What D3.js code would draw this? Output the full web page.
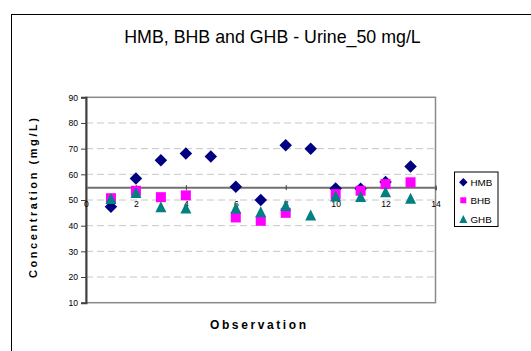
<!DOCTYPE html>
<html>
<head>
<meta charset="utf-8">
<script src="https://cdn.jsdelivr.net/npm/d3@7"></script>
<style>
  html, body { margin: 0; padding: 0; background: #fff; }
  svg { display: block; font-family: "Liberation Sans", Arial, sans-serif; }
</style>
</head>
<body>
<svg id="chart" width="531" height="351"></svg>
<script>
// Observation numbers and measured concentrations (mg/L); null = no result
const observations = [1, 2, 3, 4, 5, 6, 7, 8, 9, 10, 11, 12, 13];
const hmbValues = [47.4, 58.4, 65.5, 68.1, 66.9, 55.2, 50.0, 71.3, 70.0, 54.5, 54.4, 57.0, 63.0];
const bhbValues = [50.7, 53.6, 51.1, 51.8, null, 43.2, 41.9, 45.0, null, 52.3, 53.6, 56.2, 56.9];
const ghbValues = [50.6, 52.9, 47.4, 46.9, null, 46.9, 45.4, 47.9, 44.2, 51.6, 51.4, 53.2, 50.7];
const seriesNames = ["HMB", "BHB", "GHB"];
const seriesColors = ["#000080", "#FF00FF", "#008080"];
const xTicks = [0, 2, 4, 6, 8, 10, 12, 14];
const yTicks = [10, 20, 30, 40, 50, 60, 70, 80, 90];
const xCross = 55; // category axis crosses the value axis here

const svg = d3.select("#chart");

// Marker shapes
const diamond = { draw(ctx, size) { const r = Math.sqrt(size) / 2; ctx.moveTo(0, -r); ctx.lineTo(r, 0); ctx.lineTo(0, r); ctx.lineTo(-r, 0); ctx.closePath(); } };
const square = { draw(ctx, size) { const r = Math.sqrt(size) / 2; ctx.rect(-r, -r, 2 * r, 2 * r); } };
const triangle = { draw(ctx, size) { const r = Math.sqrt(size) / 2; ctx.moveTo(0, -r); ctx.lineTo(r, r); ctx.lineTo(-r, r); ctx.closePath(); } };
const shapes = [diamond, square, triangle];
const plotSizes = [12.5 * 12.5, 10 * 10, 11 * 11];
const legendSizes = [8.5 * 8.5, 6 * 6, 8 * 8];

// Outer chart frame
svg.append("rect").attr("x", 11.5).attr("y", 14.5).attr("width", 600).attr("height", 400)
  .attr("fill", "#fff").attr("stroke", "#000").attr("stroke-width", 1);

// Title
svg.append("text").attr("x", 272.5).attr("y", 43).attr("text-anchor", "middle")
  .attr("font-size", 17.8).attr("fill", "#000").text("HMB, BHB and GHB - Urine_50 mg/L");

const plot = { left: 86, right: 435.5, top: 97.3, bottom: 302.7 };
const x = d3.scaleLinear().domain([0, 14]).range([plot.left, plot.right]);
const y = d3.scaleLinear().domain([10, 90]).range([plot.bottom, plot.top]);

// Plot area
svg.append("rect").attr("x", plot.left).attr("y", plot.top)
  .attr("width", plot.right - plot.left).attr("height", plot.bottom - plot.top)
  .attr("fill", "#fff").attr("stroke", "#8a8a8a").attr("stroke-width", 1.5);

// Dashed gridlines
svg.append("g").selectAll("line").data(yTicks.filter(v => v > 10 && v < 90)).join("line")
  .attr("x1", plot.left).attr("x2", plot.right)
  .attr("y1", d => y(d)).attr("y2", d => y(d))
  .attr("stroke", "#c8c8c8").attr("stroke-width", 1).attr("stroke-dasharray", "7,4");

// Value axis
const yAxis = svg.append("g").attr("transform", `translate(${plot.left},0)`)
  .call(d3.axisLeft(y).tickValues(yTicks).tickSize(5).tickPadding(3).tickFormat(d3.format("d")));
yAxis.select(".domain").attr("stroke", "#404040").attr("stroke-width", 2);
yAxis.selectAll(".tick line").attr("stroke", "#404040");
yAxis.selectAll("text").attr("font-size", 8.6).attr("fill", "#000")
  .attr("font-family", "Liberation Sans, Arial, sans-serif");

// Category axis crossing at 55
const xAxis = svg.append("g").attr("transform", `translate(0,${y(xCross)})`)
  .call(d3.axisBottom(x).tickValues(xTicks).tickSize(3).tickPadding(11).tickFormat(d3.format("d")));
xAxis.select(".domain").attr("stroke", "#707070").attr("stroke-width", 2);
xAxis.selectAll(".tick line").attr("y1", -2).attr("stroke", "#404040");
xAxis.selectAll("text").attr("font-size", 8.6).attr("fill", "#000")
  .attr("font-family", "Liberation Sans, Arial, sans-serif");

// Axis titles
svg.append("text").attr("x", 258).attr("y", 329).attr("text-anchor", "middle")
  .attr("font-size", 12).attr("font-weight", "bold").attr("fill", "#000")
  .attr("textLength", 96).attr("lengthAdjust", "spacing").text("Observation");
svg.append("text").attr("transform", "translate(37,198) rotate(-90)").attr("text-anchor", "middle")
  .attr("font-size", 11).attr("font-weight", "bold").attr("fill", "#000")
  .attr("textLength", 160).attr("lengthAdjust", "spacing").text("Concentration (mg/L)");

// Series markers
const seriesValues = [hmbValues, bhbValues, ghbValues];
seriesValues.forEach((vals, i) => {
  const pts = observations.map((o, j) => ({ o, v: vals[j] })).filter(d => d.v != null);
  svg.append("g").selectAll("path").data(pts).join("path")
    .attr("transform", d => `translate(${x(d.o)},${y(d.v)})`)
    .attr("d", d3.symbol(shapes[i], plotSizes[i]))
    .attr("fill", seriesColors[i]);
});

// Legend
const legend = svg.append("g");
legend.append("rect").attr("x", 454.5).attr("y", 172).attr("width", 43.5).attr("height", 54.5)
  .attr("fill", "#fff").attr("stroke", "#000").attr("stroke-width", 1);
const legendY = [182.3, 200.3, 219];
seriesNames.forEach((name, i) => {
  legend.append("path").attr("transform", `translate(463.3,${legendY[i]})`)
    .attr("d", d3.symbol(shapes[i], legendSizes[i])).attr("fill", seriesColors[i]);
  legend.append("text").attr("x", 470.5).attr("y", legendY[i] + 3.5)
    .attr("font-size", 9.8).attr("fill", "#000").text(name);
});
</script>
</body>
</html>
